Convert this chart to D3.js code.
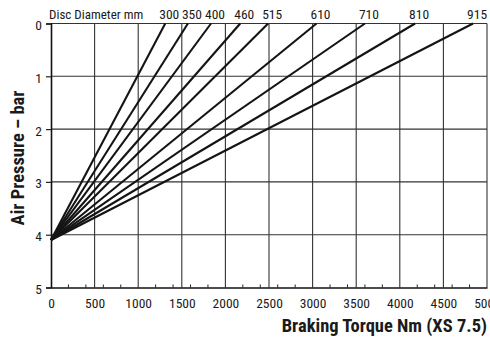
<!DOCTYPE html>
<html><head><meta charset="utf-8">
<script src="https://cdn.jsdelivr.net/npm/d3@7"></script>
<style>
html,body{margin:0;padding:0;background:#fff;}
svg{display:block;}
text{font-family:"Liberation Sans Narrow","Roboto Condensed","DejaVu Sans Condensed",sans-serif;fill:#1a1a1a;}
</style></head>
<body>
<svg id="c" width="490" height="341"></svg>
<script>
const diameters = [300, 350, 400, 460, 515, 610, 710, 810, 915];
const torqueAtZeroPressure = [1310, 1570, 1835, 2170, 2490, 3045, 3600, 4175, 4840];
const originPressure = 4.1;
const xTicks = [0, 500, 1000, 1500, 2000, 2500, 3000, 3500, 4000, 4500, 5000];
const xMinorTicks = [200, 400, 600, 800, 1200, 1400, 1600, 1800, 2200, 2400, 2600, 2800, 3200, 3400, 3600, 3800, 4200, 4400, 4600, 4800];
const yTicks = [0, 1, 2, 3, 4, 5];

const W = 490, H = 341;
const m = {left: 51, right: 3, top: 23.5, bottom: 53.5};
const svg = d3.select("#c");
const x = d3.scaleLinear().domain([0, 5000]).range([m.left, W - m.right]);
const y = d3.scaleLinear().domain([0, 5]).range([m.top, H - m.bottom]);

// grid
const g = svg.append("g");
g.selectAll(".vg").data(xTicks.slice(1)).join("line")
  .attr("x1", d => x(d)).attr("x2", d => x(d))
  .attr("y1", y(0)).attr("y2", y(5))
  .attr("stroke", "#333").attr("stroke-width", 1.1);
g.selectAll(".hg").data(yTicks.slice(0, 5)).join("line")
  .attr("x1", x(0)).attr("x2", x(5000))
  .attr("y1", d => y(d)).attr("y2", d => y(d))
  .attr("stroke", "#333").attr("stroke-width", 1.1);

// minor ticks on x axis
g.selectAll(".mt").data(xMinorTicks).join("line")
  .attr("x1", d => x(d)).attr("x2", d => x(d))
  .attr("y1", y(5)).attr("y2", y(5) - 3)
  .attr("stroke", "#222").attr("stroke-width", 1);

// axes
const xAxis = svg.append("g").attr("transform", `translate(0,${y(5)})`)
  .call(d3.axisBottom(x).tickValues(xTicks).tickSize(0).tickPadding(11).tickFormat(d3.format("d")));
xAxis.select(".domain").attr("stroke", "#111").attr("stroke-width", 1.6);
xAxis.selectAll("text").attr("font-size", 13.5).attr("fill", "#1a1a1a");

const yAxis = svg.append("g").attr("transform", `translate(${x(0)},0)`)
  .call(d3.axisLeft(y).tickValues(yTicks).tickSize(5).tickPadding(4).tickFormat(d3.format("d")));
yAxis.select(".domain").attr("stroke", "#111").attr("stroke-width", 1.6);
yAxis.selectAll(".tick line").attr("stroke", "#222").attr("stroke-width", 1.2);
yAxis.selectAll("text").attr("font-size", 13.5).attr("fill", "#1a1a1a").attr("dy", "0.45em");

// data lines
const lines = diameters.map((dia, i) => ({dia, pts: [[0, originPressure], [torqueAtZeroPressure[i], 0]]}));
const lineGen = d3.line().x(d => x(d[0])).y(d => y(d[1]));
svg.append("g").selectAll("path").data(lines).join("path")
  .attr("d", d => lineGen(d.pts))
  .attr("fill", "none").attr("stroke", "#141414").attr("stroke-width", 2.1);

// diameter labels
svg.append("g").selectAll("text").data(lines).join("text")
  .attr("x", d => x(d.pts[1][0]) + 4).attr("y", 18.5)
  .attr("text-anchor", "middle").attr("font-size", 13.5)
  .text(d => d.dia);
svg.append("text").attr("x", 49).attr("y", 18.5).attr("font-size", 13)
  .text("Disc Diameter mm");

// titles
svg.append("text").attr("x", 487).attr("y", 332).attr("text-anchor", "end")
  .attr("font-size", 18.5).attr("font-weight", "bold").text("Braking Torque Nm (XS 7.5)");
svg.append("text").attr("transform", "translate(24,158) rotate(-90)")
  .attr("text-anchor", "middle").attr("font-size", 18.5).attr("font-weight", "bold")
  .text("Air Pressure – bar");
</script>
</body></html>
